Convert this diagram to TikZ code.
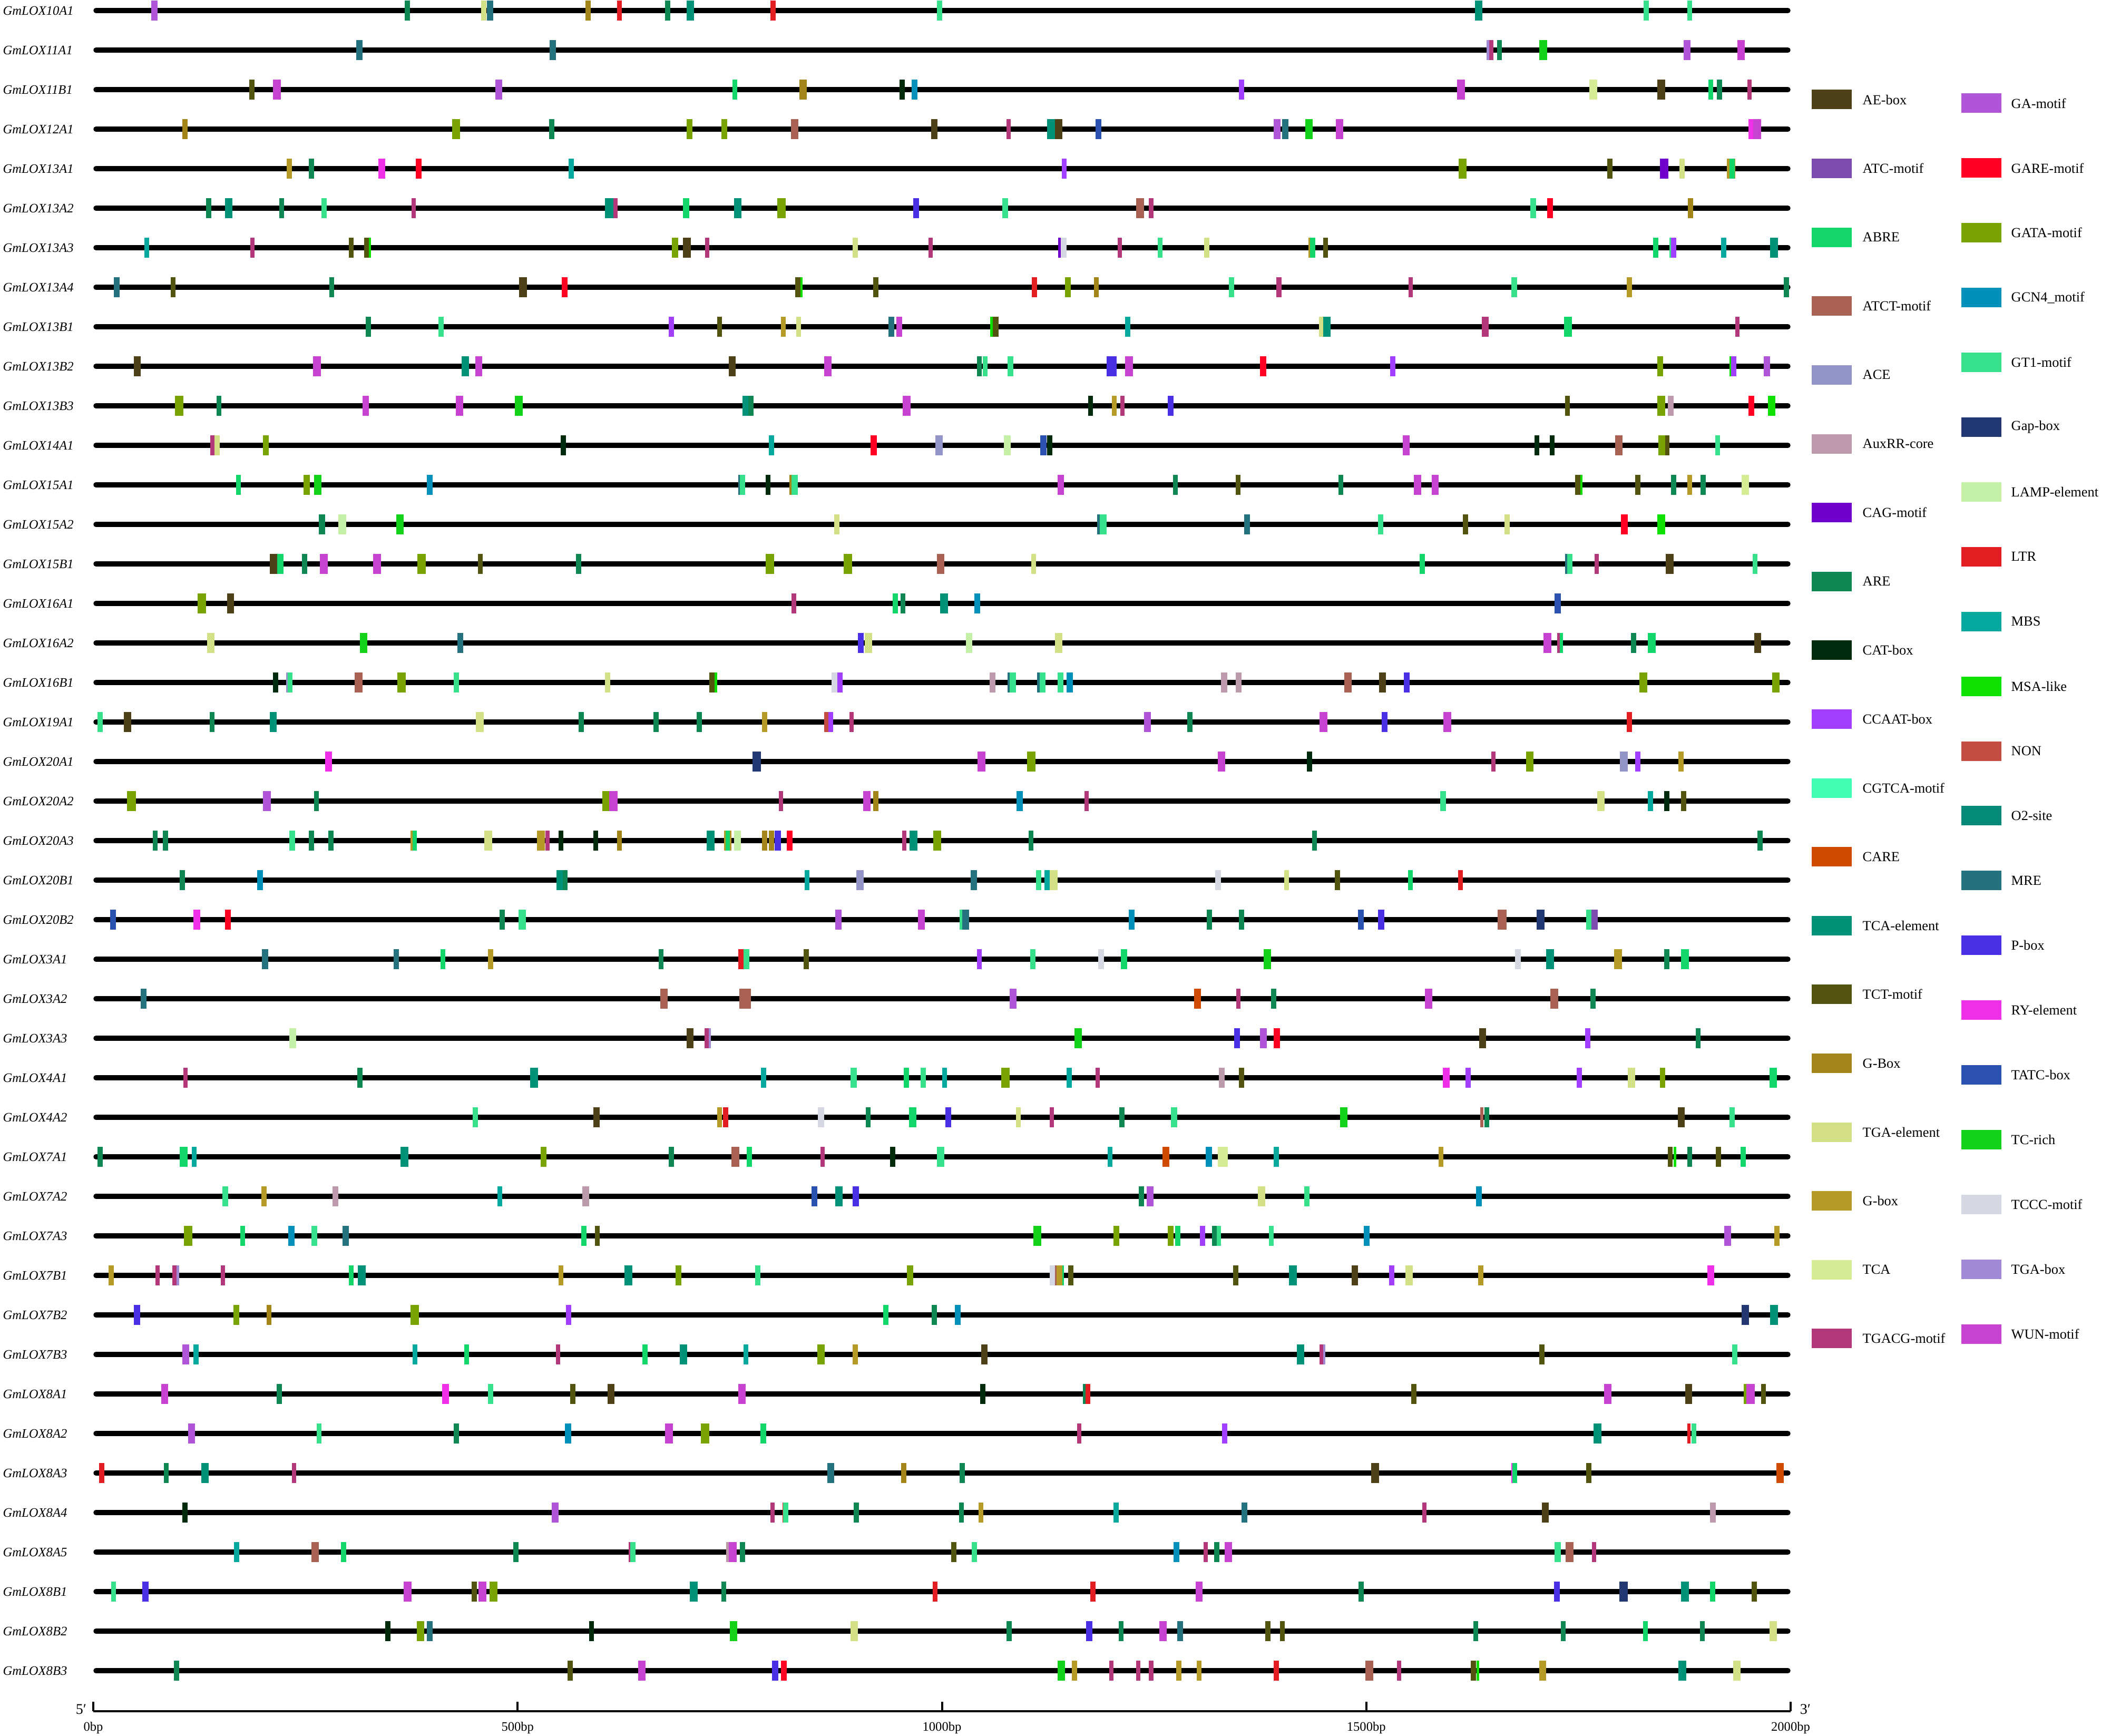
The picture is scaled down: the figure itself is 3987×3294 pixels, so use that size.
\documentclass[tikz,border=0pt]{standalone}
\usepackage{fontspec}
\setmainfont{Liberation Serif}
\usetikzlibrary{calc}

% element colours
\definecolor{ae}{HTML}{4E4118}
\definecolor{atc}{HTML}{7B4BAF}
\definecolor{abre}{HTML}{13D66B}
\definecolor{atct}{HTML}{A86152}
\definecolor{ace}{HTML}{9395C8}
\definecolor{aux}{HTML}{BC9AAB}
\definecolor{cag}{HTML}{7000CC}
\definecolor{are}{HTML}{0F8753}
\definecolor{cat}{HTML}{002A0C}
\definecolor{ccaat}{HTML}{A23FFF}
\definecolor{cgtca}{HTML}{42FFB5}
\definecolor{care}{HTML}{D04A00}
\definecolor{tcae}{HTML}{009278}
\definecolor{tct}{HTML}{535410}
\definecolor{gboxA}{HTML}{A28418}
\definecolor{tgae}{HTML}{D3E085}
\definecolor{gboxB}{HTML}{B59A28}
\definecolor{tca}{HTML}{D5EC94}
\definecolor{tgacg}{HTML}{B3387B}
\definecolor{ga}{HTML}{B055D8}
\definecolor{gare}{HTML}{FF0023}
\definecolor{gata}{HTML}{79A300}
\definecolor{gcn}{HTML}{0090BA}
\definecolor{gt}{HTML}{37E08B}
\definecolor{gap}{HTML}{223872}
\definecolor{lamp}{HTML}{C4F0A8}
\definecolor{ltr}{HTML}{E21E22}
\definecolor{mbs}{HTML}{07A89D}
\definecolor{msa}{HTML}{0EE000}
\definecolor{non}{HTML}{C44D41}
\definecolor{otwo}{HTML}{038A78}
\definecolor{mre}{HTML}{24727E}
\definecolor{pbox}{HTML}{4A30E5}
\definecolor{ry}{HTML}{F030E8}
\definecolor{tatc}{HTML}{2A50B0}
\definecolor{tcr}{HTML}{14D21A}
\definecolor{tccc}{HTML}{D5D8E2}
\definecolor{tgab}{HTML}{A289D6}
\definecolor{wun}{HTML}{C842D2}

\tikzset{
	chrom/.style={
		line width=0.95mm,
		line cap=round,
		black
	},
	rowlab/.style={
		anchor=west,
		inner sep=0pt,
		font=\fontsize{7}{8}\selectfont\itshape
	},
	legtext/.style={
		anchor=west,
		inner sep=0pt,
		font=\fontsize{7.5}{9}\selectfont
	},
	axislab/.style={
		inner sep=0pt,
		font=\fontsize{7}{8}\selectfont
	},
	endlab/.style={
		inner sep=0pt,
		font=\fontsize{8}{9}\selectfont
	},
	axisline/.style={line width=0.4mm},
}

% one row of elements: left end (bp) / colour / width (bp)
\newcommand{\promoterrow}[2]{%
	\foreach \p/\c/\w in {#2}
		\fill[fill=\c] ({177+1.6105*\p},{20+75*#1-19}) rectangle ++({1.6105*\w},38);%
}

\begin{document}
\begin{tikzpicture}[x=0.1mm, y=-0.1mm]
	\useasboundingbox (0,0) rectangle (3987,3294);

	\foreach \name [count=\i from 0] in {GmLOX10A1,GmLOX11A1,GmLOX11B1,GmLOX12A1,GmLOX13A1,GmLOX13A2,GmLOX13A3,GmLOX13A4,GmLOX13B1,GmLOX13B2,GmLOX13B3,GmLOX14A1,GmLOX15A1,GmLOX15A2,GmLOX15B1,GmLOX16A1,GmLOX16A2,GmLOX16B1,GmLOX19A1,GmLOX20A1,GmLOX20A2,GmLOX20A3,GmLOX20B1,GmLOX20B2,GmLOX3A1,GmLOX3A2,GmLOX3A3,GmLOX4A1,GmLOX4A2,GmLOX7A1,GmLOX7A2,GmLOX7A3,GmLOX7B1,GmLOX7B2,GmLOX7B3,GmLOX8A1,GmLOX8A2,GmLOX8A3,GmLOX8A4,GmLOX8A5,GmLOX8B1,GmLOX8B2,GmLOX8B3} {
		\node[rowlab] (lab\i) at (5,{20+75*\i}) {\name};
		\coordinate (s\i) at (182,{20+75*\i});
		\coordinate (e\i) at (3393,{20+75*\i});
		\draw[chrom] (s\i) -- (e\i);
	}

	\promoterrow{0}{68/ga/8, 367/are/6, 457/tgae/6, 464/mre/7, 580/gboxA/6, 617/ltr/6, 674/are/6, 699/tcae/9, 798/ltr/6, 994/gt/6, 1628/tcae/9, 1827/gt/6, 1878/gt/6}
	\promoterrow{1}{310/mre/7, 538/mre/7, 1642/tgab/3, 1645/tgacg/5, 1654/are/6, 1704/tcr/9, 1874/ga/8, 1937/wun/9}
	\promoterrow{2}{184/tct/6, 212/wun/9, 474/ga/8, 753/abre/6, 832/gboxA/9, 950/cat/6, 964/gcn/7, 1350/ccaat/6, 1607/wun/9, 1763/tca/9, 1843/ae/9, 1903/abre/6, 1913/are/6, 1949/tgacg/5}
	\promoterrow{3}{105/gboxA/6, 423/gata/9, 537/are/6, 699/gata/7, 740/gata/7, 822/atct/9, 987/ae/8, 1076/tgacg/5, 1124/tcae/9, 1133/ae/9, 1181/tatc/7, 1391/ga/8, 1401/mre/7, 1428/tcr/9, 1464/wun/9, 1950/ry/6, 1956/wun/9}
	\promoterrow{4}{228/gboxB/6, 254/are/6, 336/ry/8, 380/gare/7, 560/mbs/6, 1141/ccaat/6, 1609/gata/9, 1784/tct/6, 1846/cag/10, 1869/tgae/6, 1925/gboxB/10, 1928/abre/6}
	\promoterrow{5}{133/are/6, 155/tcae/9, 219/are/6, 269/gt/6, 375/tgacg/5, 603/tcae/10, 613/tgacg/5, 695/abre/7, 755/tcae/9, 806/gata/10, 966/pbox/7, 1071/gt/7, 1229/atct/9, 1244/tgacg/5, 1693/gt/7, 1713/gare/7, 1879/gboxA/6}
	\promoterrow{6}{60/mbs/6, 185/tgacg/5, 301/tct/6, 319/tct/6, 325/msa/2, 682/gata/7, 695/ae/9, 721/tgacg/5, 895/tgae/6, 984/tgacg/5, 1137/cag/4, 1140/tccc/7, 1207/tgacg/5, 1254/gt/6, 1309/tgae/6, 1432/gboxB/3, 1434/abre/6, 1449/tct/6, 1838/abre/6, 1857/gt/3, 1859/ccaat/6, 1918/mbs/6, 1976/tcae/9}
	\promoterrow{7}{24/mre/7, 91/tct/6, 278/are/6, 502/ae/9, 552/gare/7, 827/tct/6, 833/msa/3, 919/tct/6, 1106/ltr/6, 1145/gata/7, 1179/gboxA/6, 1338/gt/6, 1394/tgacg/6, 1550/tgacg/5, 1671/gt/7, 1807/gboxB/6, 1992/are/6}
	\promoterrow{8}{321/are/6, 407/gt/6, 678/ccaat/6, 735/tct/6, 810/gboxB/6, 828/tgae/6, 937/mre/7, 946/wun/7, 1057/msa/3, 1060/tct/7, 1216/mbs/6, 1444/tgae/5, 1449/tcae/9, 1636/tgacg/8, 1733/abre/9, 1935/tgacg/5}
	\promoterrow{9}{48/ae/8, 259/wun/9, 434/tcae/9, 450/wun/8, 749/ae/8, 861/wun/9, 1041/are/6, 1048/gt/6, 1077/gt/7, 1194/pbox/12, 1216/wun/9, 1375/gare/7, 1528/ccaat/6, 1843/gata/7, 1928/msa/3, 1930/ccaat/6, 1968/ga/8}
	\promoterrow{10}{96/gata/10, 145/are/6, 317/wun/8, 427/wun/9, 497/tcr/9, 765/tcae/7, 772/are/6, 954/wun/9, 1172/cat/6, 1200/gboxB/6, 1210/tgacg/5, 1266/pbox/7, 1734/tct/6, 1843/gata/9, 1855/aux/7, 1950/gare/7, 1973/msa/9}
	\promoterrow{11}{138/tgacg/5, 143/tgae/6, 200/gata/7, 551/cat/6, 796/mbs/6, 916/gare/7, 992/ace/9, 1073/lamp/8, 1116/tatc/7, 1124/cat/6, 1543/wun/8, 1698/cat/6, 1716/cat/6, 1793/atct/9, 1844/gata/8, 1852/tct/5, 1911/gt/6}
	\promoterrow{12}{168/abre/6, 248/gata/7, 260/tcr/9, 393/gcn/7, 760/mre/3, 762/gt/6, 792/cat/6, 820/gboxA/3, 823/gt/7, 1136/wun/8, 1272/are/6, 1346/tct/6, 1467/are/6, 1556/wun/9, 1577/wun/8, 1746/tct/6, 1752/msa/3, 1817/tct/6, 1859/are/6, 1878/gboxB/6, 1894/are/6, 1942/tca/9}
	\promoterrow{13}{266/are/7, 289/lamp/9, 357/tcr/9, 873/tgae/6, 1183/mre/3, 1186/gt/8, 1356/mre/7, 1514/gt/6, 1614/tct/6, 1663/tgae/6, 1800/gare/8, 1843/msa/9}
	\promoterrow{14}{208/ae/9, 217/abre/7, 246/are/6, 267/wun/9, 330/wun/9, 382/gata/10, 453/tct/6, 569/are/6, 792/gata/10, 884/gata/10, 994/atct/9, 1105/tgae/6, 1563/abre/6, 1734/mre/3, 1737/gt/6, 1769/tgacg/5, 1853/ae/9, 1955/gt/6}
	\promoterrow{15}{123/gata/10, 158/ae/8, 823/tgacg/5, 942/abre/6, 951/are/6, 998/tcae/9, 1038/gcn/7, 1722/tatc/7}
	\promoterrow{16}{134/tgae/9, 314/tcr/9, 429/mre/7, 901/pbox/7, 909/tgae/9, 1028/lamp/8, 1133/tgae/9, 1709/wun/9, 1725/tgacg/3, 1728/abre/4, 1812/are/6, 1832/abre/9, 1957/ae/8}
	\promoterrow{17}{212/cat/6, 227/ace/3, 229/gt/6, 308/atct/9, 358/gata/10, 425/gt/6, 603/tgae/6, 726/tct/6, 732/msa/3, 870/tccc/7, 877/ccaat/6, 1056/aux/7, 1077/mre/3, 1080/gt/7, 1112/mre/3, 1115/gt/7, 1136/gt/7, 1147/gcn/7, 1329/aux/7, 1346/aux/7, 1474/atct/9, 1515/ae/8, 1544/pbox/7, 1822/gata/9, 1978/gata/9}
	\promoterrow{18}{5/gt/6, 36/ae/9, 137/are/6, 208/tcae/8, 451/tgae/9, 572/are/6, 660/are/6, 711/are/6, 788/gboxB/6, 861/non/5, 866/ccaat/6, 891/tgacg/5, 1238/ga/8, 1289/are/6, 1445/wun/9, 1518/pbox/7, 1591/wun/9, 1807/ltr/6}
	\promoterrow{19}{273/ry/8, 777/gap/10, 1042/wun/9, 1100/gata/10, 1325/wun/9, 1430/cat/6, 1647/tgacg/5, 1688/gata/9, 1799/ace/9, 1817/ccaat/6, 1868/gboxB/6}
	\promoterrow{20}{40/gata/10, 200/ga/9, 260/are/6, 600/gata/8, 608/wun/10, 808/tgacg/5, 907/wun/9, 919/gboxA/6, 1088/gcn/7, 1168/tgacg/5, 1587/gt/7, 1772/tgae/9, 1832/mbs/6, 1851/cat/6, 1871/tct/6}
	\promoterrow{21}{70/are/6, 82/are/6, 231/gt/7, 254/are/6, 277/are/6, 374/gboxB/3, 376/abre/5, 461/tgae/9, 523/gboxB/9, 533/tgacg/5, 548/cat/6, 589/cat/6, 617/gboxA/6, 723/tcae/9, 743/gboxB/9, 745/abre/5, 755/lamp/8, 788/gboxA/6, 796/gboxA/6, 803/pbox/7, 817/gare/7, 953/tgacg/5, 962/tcae/9, 990/gata/9, 1102/are/6, 1436/are/6, 1961/are/6}
	\promoterrow{22}{102/are/6, 193/gcn/7, 546/tcae/7, 553/are/6, 838/mbs/6, 899/ace/9, 1034/mre/7, 1111/gt/6, 1121/mbs/6, 1127/tgae/9, 1322/tccc/7, 1403/tgae/6, 1463/tct/6, 1549/abre/6, 1608/ltr/6}
	\promoterrow{23}{20/tatc/7, 118/ry/8, 155/gare/7, 479/are/6, 501/gt/9, 874/ga/8, 972/wun/8, 1021/gt/3, 1024/mre/8, 1220/gcn/7, 1312/are/6, 1350/are/6, 1490/tatc/7, 1514/pbox/7, 1655/atct/10, 1701/gap/9, 1759/gt/6, 1765/atc/8}
	\promoterrow{24}{199/mre/7, 354/mre/6, 409/abre/6, 465/gboxB/6, 666/are/6, 760/ltr/6, 766/gt/7, 837/tct/6, 1041/ccaat/6, 1104/gt/6, 1184/tccc/7, 1211/abre/7, 1379/tcr/9, 1675/tccc/7, 1712/tcae/9, 1792/gboxB/9, 1851/are/6, 1871/abre/9}
	\promoterrow{25}{56/mre/7, 668/atct/9, 761/atct/14, 1080/ga/8, 1297/care/8, 1347/tgacg/5, 1388/are/6, 1569/wun/9, 1717/atct/9, 1764/are/6}
	\promoterrow{26}{231/lamp/8, 699/ae/8, 720/tgacg/5, 725/tgab/3, 1156/tcr/9, 1344/pbox/7, 1375/ga/8, 1391/gare/7, 1633/ae/8, 1758/ccaat/6, 1888/are/6}
	\promoterrow{27}{106/tgacg/5, 311/are/6, 515/tcae/9, 787/mbs/6, 892/gt/8, 955/abre/6, 975/gt/6, 1000/mbs/6, 1070/gata/10, 1147/mbs/6, 1181/tgacg/5, 1326/aux/7, 1350/tct/6, 1590/ry/8, 1617/ccaat/6, 1748/ccaat/6, 1808/tgae/9, 1846/gata/6, 1975/abre/9}
	\promoterrow{28}{447/gt/6, 589/ae/8, 735/gboxB/6, 742/ltr/6, 854/tccc/7, 910/are/6, 961/abre/9, 1004/pbox/7, 1087/tgae/6, 1127/tgacg/5, 1209/are/6, 1270/gt/7, 1469/tcr/9, 1634/atct/4, 1639/are/6, 1867/ae/8, 1928/gt/6}
	\promoterrow{29}{5/are/6, 102/abre/9, 116/mbs/6, 362/tcae/9, 527/gata/7, 678/are/6, 752/atct/9, 770/abre/6, 857/tgacg/5, 939/cat/6, 994/gt/9, 1195/mbs/6, 1260/care/8, 1311/gcn/7, 1325/tca/12, 1391/mbs/6, 1585/gboxB/6, 1855/tct/6, 1862/msa/3, 1878/are/6, 1912/tct/6, 1941/abre/6}
	\promoterrow{30}{152/gt/7, 198/gboxB/6, 282/aux/7, 476/mbs/6, 576/aux/8, 846/tatc/7, 874/tcae/9, 895/pbox/7, 1232/are/6, 1241/ga/8, 1372/tgae/9, 1427/gt/6, 1629/gcn/7}
	\promoterrow{31}{107/gata/10, 173/abre/6, 230/gcn/7, 257/gt/7, 294/mre/7, 575/abre/6, 591/tct/6, 1108/tcr/9, 1202/gata/7, 1266/gata/7, 1275/abre/6, 1304/ccaat/6, 1318/are/6, 1324/gt/5, 1385/gt/6, 1497/gcn/7, 1922/ga/8, 1981/gboxB/6}
	\promoterrow{32}{18/gboxB/6, 73/tgacg/5, 93/tgacg/5, 98/tgab/3, 150/tgacg/5, 301/abre/6, 312/tcae/9, 548/gboxB/6, 626/tcae/9, 686/gata/7, 780/gt/6, 959/gata/7, 1127/tccc/6, 1133/atct/2, 1135/gboxB/8, 1142/abre/2, 1149/tct/6, 1343/tct/6, 1409/tcae/9, 1483/ae/7, 1527/ccaat/6, 1546/tgae/9, 1632/gboxB/6, 1902/ry/8}
	\promoterrow{33}{48/pbox/7, 165/gata/7, 204/gboxA/6, 374/gata/10, 557/ccaat/6, 931/abre/6, 988/are/6, 1015/gcn/7, 1942/gap/9, 1976/tcae/9}
	\promoterrow{34}{105/ga/8, 118/mbs/6, 376/mbs/6, 437/abre/6, 545/tgacg/5, 647/abre/6, 691/tcae/9, 766/mbs/6, 853/gata/9, 895/gboxB/6, 1046/ae/8, 1418/tcae/9, 1445/tgacg/5, 1449/tgab/3, 1704/tct/6, 1931/gt/6}
	\promoterrow{35}{80/wun/8, 216/are/6, 411/ry/8, 465/gt/6, 562/tct/6, 606/ae/8, 760/wun/9, 1045/cat/6, 1166/are/3, 1169/ltr/6, 1553/tct/6, 1780/wun/9, 1876/ae/8, 1945/gata/3, 1948/wun/10, 1965/tct/6}
	\promoterrow{36}{112/ga/8, 263/gt/6, 425/are/6, 556/gcn/7, 674/wun/9, 716/gata/10, 786/abre/7, 1159/tgacg/5, 1330/ccaat/6, 1768/tcae/9, 1878/ltr/4, 1883/gt/6}
	\promoterrow{37}{7/ltr/6, 83/are/6, 127/tcae/9, 234/tgacg/5, 865/mre/8, 952/gboxA/6, 1021/are/6, 1506/ae/9, 1671/ry/2, 1672/abre/6, 1759/tct/6, 1983/care/9}
	\promoterrow{38}{105/cat/6, 540/ga/8, 798/tgacg/5, 812/ltr/2, 813/gt/6, 896/are/6, 1020/are/6, 1043/gboxB/6, 1202/mbs/6, 1353/mre/7, 1566/tgacg/5, 1707/ae/8, 1905/aux/7}
	\promoterrow{39}{166/mbs/6, 257/atct/9, 292/abre/6, 495/are/6, 631/tgacg/2, 633/gt/6, 746/aux/3, 749/wun/9, 762/are/6, 1011/tct/6, 1035/gt/6, 1273/gcn/7, 1308/tgacg/5, 1321/are/6, 1333/wun/9, 1722/gt/7, 1735/atct/9, 1766/tgacg/5}
	\promoterrow{40}{21/gt/6, 58/pbox/7, 366/wun/9, 446/tct/6, 454/wun/9, 467/gata/9, 703/tcae/9, 740/are/6, 989/ltr/6, 1175/ltr/6, 1299/wun/8, 1491/are/6, 1721/pbox/7, 1798/gap/10, 1871/tcae/9, 1905/abre/6, 1954/tct/6}
	\promoterrow{41}{344/cat/6, 381/gata/9, 393/mre/7, 584/cat/6, 750/tcr/9, 892/tgae/9, 1076/are/6, 1170/pbox/7, 1208/are/6, 1256/wun/9, 1277/mre/7, 1381/tct/6, 1398/tct/6, 1626/are/6, 1729/are/6, 1826/abre/6, 1893/are/6, 1975/tgae/9}
	\promoterrow{42}{95/are/6, 559/tct/6, 642/wun/9, 800/pbox/7, 810/gare/7, 1136/tcr/9, 1153/gboxB/6, 1197/tgacg/5, 1229/tgacg/5, 1244/tgacg/5, 1276/gboxB/6, 1300/gboxB/6, 1391/ltr/6, 1499/atct/9, 1536/tgacg/5, 1623/tct/6, 1630/msa/3, 1704/gboxB/8, 1868/tcae/9, 1932/tgae/9}

	% scale
	\coordinate (ax0) at (177,3247);
	\coordinate (ax1) at (3398,3247);
	\draw[axisline] (ax0) -- (ax1);
	\foreach \b in {0,500,...,2000} {
		\draw[axisline] ({177+1.6105*\b},3247) -- ++(0,-18);
		\node[axislab] (tk\b) at ({177+1.6105*\b},3279) {\b bp};
	}
	\node[endlab] (five) at (154,3243) {5′};
	\node[endlab] (three) at (3426,3243) {3′};

	% legend
	\foreach \c/\t [count=\k from 0] in {ae/AE-box, atc/ATC-motif, abre/ABRE, atct/ATCT-motif, ace/ACE, aux/AuxRR-core, cag/CAG-motif, are/ARE, cat/CAT-box, ccaat/CCAAT-box, cgtca/CGTCA-motif, care/CARE, tcae/TCA-element, tct/TCT-motif, gboxA/G-Box, tgae/TGA-element, gboxB/G-box, tca/TCA, tgacg/TGACG-motif} {
		\fill[fill=\c] (3438,{189+130.6*\k-18.5}) rectangle ++(76,37);
		\node[legtext] (legL\k) at (3534,{189+130.6*\k}) {\t};
	}
	\foreach \c/\t [count=\k from 0] in {ga/GA-motif, gare/GARE-motif, gata/GATA-motif, gcn/GCN4\_motif, gt/GT1-motif, gap/Gap-box, lamp/LAMP-element, ltr/LTR, mbs/MBS, msa/MSA-like, non/NON, otwo/O2-site, mre/MRE, pbox/P-box, ry/RY-element, tatc/TATC-box, tcr/TC-rich, tccc/TCCC-motif, tgab/TGA-box, wun/WUN-motif} {
		\fill[fill=\c] (3722,{196+122.9*\k-18.5}) rectangle ++(76,37);
		\node[legtext] (legR\k) at (3816,{196+122.9*\k}) {\t};
	}
\end{tikzpicture}
\end{document}
